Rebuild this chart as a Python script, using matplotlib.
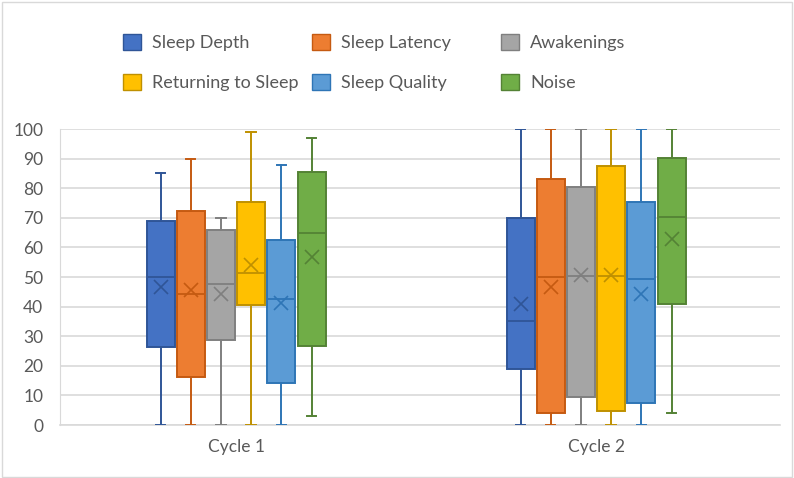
import matplotlib.pyplot as plt
from matplotlib.patches import Patch

plt.rcParams['font.family'] = ['Lato', 'DejaVu Sans']

# data
cycles = ['Cycle 1', 'Cycle 2']
series = ['Sleep Depth', 'Sleep Latency', 'Awakenings',
          'Returning to Sleep', 'Sleep Quality', 'Noise']
fills = ['#4472C4', '#ED7D31', '#A5A5A5', '#FFC000', '#5B9BD5', '#70AD47']
edges = ['#2F5597', '#C55A11', '#7F7F7F', '#BF9000', '#2E75B6', '#548235']

# per series: [cycle1, cycle2]
whislo = [[0, 0], [0, 0], [0, 0], [0, 0], [0, 0], [3, 4]]
q1 = [[26.5, 19], [16.3, 4], [28.7, 9.3], [40.4, 4.8], [14.3, 7.3], [26.7, 41]]
med = [[50, 35.2], [44.3, 50], [47.5, 50.3], [51.5, 50.2], [42.6, 49.3], [64.8, 70.3]]
q3 = [[69, 69.8], [72.2, 83.2], [66, 80.4], [75.3, 87.6], [62.6, 75.2], [85.5, 90.3]]
whishi = [[85, 100], [90, 100], [70, 100], [99, 100], [88, 100], [97, 100]]
means = [[46.7, 40.9], [45.6, 46.7], [44.3, 50.6], [54, 50.6], [41.1, 44.3], [56.9, 62.7]]

fig = plt.figure(figsize=(7.94, 4.78), dpi=100)
ax = fig.add_axes([60 / 794, 53 / 478, 720 / 794, 296 / 478])

step = 30.2 / 360
width = 28 / 360
shift = -4 / 360
centers = [c + 0.5 + shift for c in range(len(cycles))]
for i, name in enumerate(series):
    stats = []
    pos = []
    for c in range(len(cycles)):
        stats.append({'whislo': whislo[i][c], 'q1': q1[i][c], 'med': med[i][c],
                      'q3': q3[i][c], 'whishi': whishi[i][c], 'mean': means[i][c],
                      'fliers': []})
        pos.append(centers[c] + (i - 2.5) * step)
    ax.bxp(stats, positions=pos, widths=width, showmeans=True, patch_artist=True,
           manage_ticks=False, capwidths=width * 0.33,
           boxprops=dict(facecolor=fills[i], edgecolor=edges[i], linewidth=1.4),
           medianprops=dict(color=edges[i], linewidth=1.3),
           whiskerprops=dict(color=edges[i], linewidth=1.4),
           capprops=dict(color=edges[i], linewidth=1.4),
           meanprops=dict(marker='x', markeredgecolor=edges[i], markersize=10,
                          markeredgewidth=1.2),
           zorder=3)

ax.set_xlim(0, 2)
ax.set_ylim(0, 100)
ax.set_yticks(range(0, 101, 10))
ax.set_xticks(centers)
ax.set_xticklabels(cycles)
ax.yaxis.grid(True, color='#D9D9D9', linewidth=1.2, zorder=0)
ax.set_axisbelow(True)
ax.tick_params(length=0, labelsize=12.5, colors='#595959')
ax.tick_params(axis='y', pad=12)
ax.tick_params(axis='x', pad=10)
for s in ['top', 'right']:
    ax.spines[s].set_visible(False)
ax.spines['left'].set_color('#D9D9D9')
ax.spines['bottom'].set_color('#D9D9D9')
ax.spines['bottom'].set_linewidth(1.2)

# legend: three columns of two entries, filled row by row
xs = [123 / 794, 312 / 794, 501 / 794]
for col in range(3):
    hs = [Patch(facecolor=fills[k], edgecolor=edges[k]) for k in (col, col + 3)]
    labs = [series[col], series[col + 3]]
    fig.legend(hs, labs, loc='upper left', bbox_to_anchor=(xs[col], 1 - 34 / 478),
               frameon=False, fontsize=13, labelcolor='#595959',
               handlelength=1.0, handleheight=1.0, handletextpad=0.6,
               labelspacing=1.25, borderaxespad=0, borderpad=0)

fig.patches.append(plt.Rectangle((0.002, 0.003), 0.995, 0.993, transform=fig.transFigure,
                                 fill=False, edgecolor='#D9D9D9', linewidth=1))

fig.savefig('out.png', dpi=100)
